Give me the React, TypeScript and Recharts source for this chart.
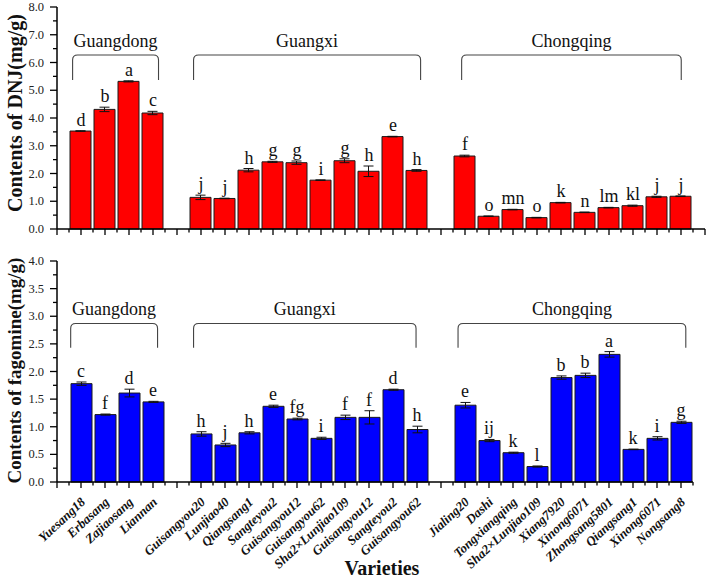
import React from 'react';
import { ComposedChart, Bar, Line, XAxis, YAxis, ErrorBar, LabelList, ReferenceArea } from 'recharts';

// ---------- data ----------
const regionNames = ['Guangdong', 'Guangxi', 'Chongqing'];
const gdNames = ['Yuesang18', 'Erbasang', 'Zajiaosang', 'Liannan'];
const gxNames = ['Guisangyou20', 'Lunjiao40', 'Qiangsang1', 'Sangteyou2', 'Guisangyou12', 'Guisangyou62', 'Sha2×Lunjiao109', 'Guisangyou12', 'Sangteyou2', 'Guisangyou62'];
const cqNames = ['Jialing20', 'Dashi', 'Tongxiangqing', 'Sha2×Lunjiao109', 'Xiang7920', 'Xinong6071', 'Zhongsang5801', 'Qiangsang1', 'Xinong6071', 'Nongsang8'];

const dnjValues = [3.53, 4.31, 5.32, 4.18, 1.14, 1.10, 2.12, 2.42, 2.39, 1.76, 2.46, 2.08, 3.33, 2.11, 2.63, 0.46, 0.70, 0.41, 0.95, 0.60, 0.77, 0.84, 1.16, 1.18];
const dnjErrors = [0.01, 0.08, 0.02, 0.06, 0.08, 0.01, 0.06, 0.02, 0.06, 0.01, 0.07, 0.19, 0.01, 0.03, 0.03, 0.01, 0.01, 0.01, 0.01, 0.01, 0.01, 0.02, 0.02, 0.01];
const dnjLetters = ['d', 'b', 'a', 'c', 'j', 'j', 'h', 'g', 'g', 'i', 'g', 'h', 'e', 'h', 'f', 'o', 'mn', 'o', 'k', 'n', 'lm', 'kl', 'j', 'j'];

const fagValues = [1.78, 1.22, 1.61, 1.45, 0.87, 0.67, 0.89, 1.37, 1.14, 0.79, 1.17, 1.17, 1.67, 0.95, 1.39, 0.75, 0.53, 0.28, 1.89, 1.93, 2.31, 0.59, 0.79, 1.08];
const fagErrors = [0.03, 0.01, 0.07, 0.01, 0.04, 0.03, 0.02, 0.02, 0.015, 0.02, 0.04, 0.12, 0.01, 0.06, 0.05, 0.02, 0.01, 0.01, 0.03, 0.04, 0.05, 0.005, 0.03, 0.02];
const fagLetters = ['c', 'f', 'd', 'e', 'h', 'j', 'h', 'e', 'fg', 'i', 'f', 'f', 'd', 'h', 'e', 'ij', 'k', 'l', 'b', 'b', 'a', 'k', 'i', 'g'];

// ---------- layout helpers ----------
const groups = [gdNames, gxNames, cqNames];
const names: string[] = [];
const slots: number[] = [];
{
  let s = 1;
  groups.forEach((g) => {
    g.forEach((n) => { names.push(n); slots.push(s); s += 1; });
    s += 1;
  });
}
const nameBySlot: Record<number, string> = {};
slots.forEach((s, i) => { nameBySlot[s] = names[i]; });

const rows = slots.map((s, i) => ({
  x: s,
  name: names[i],
  dnj: dnjValues[i],
  dnjErr: dnjErrors[i],
  dnjTop: dnjValues[i] + dnjErrors[i],
  dnjLetter: dnjLetters[i],
  fag: fagValues[i],
  fagErr: fagErrors[i],
  fagTop: fagValues[i] + fagErrors[i],
  fagLetter: fagLetters[i],
}));

const FONT = 'Liberation Serif, Times New Roman, serif';

const rangeTicks = (max: number, step: number) => {
  const out: number[] = [];
  for (let v = 0; v <= max + 1e-9; v += step) out.push(Math.round(v * 1000) / 1000);
  return out;
};

const isMult = (v: number, step: number) => Math.abs(v / step - Math.round(v / step)) < 1e-6;

const XTick = (props: any) => {
  const { x, y, payload, showLabels } = props;
  const v = payload.value;
  const major = isMult(v, 1);
  const name = major ? nameBySlot[Math.round(v)] : undefined;
  const tx = x + 5;
  const ty = y + 21;
  return (
    <g>
      <line x1={x} y1={y} x2={x} y2={y + (major ? 6 : 3.5)} stroke="#000" strokeWidth={1.3} />
      {showLabels && name && (
        <text x={tx} y={ty} transform={`rotate(-43, ${tx}, ${ty})`} textAnchor="end"
          fontFamily={FONT} fontWeight="bold" fontStyle="italic" fontSize={13} fill="#111">
          {name}
        </text>
      )}
    </g>
  );
};

const YTick = (props: any) => {
  const { x, y, payload, majorStep } = props;
  const v = payload.value;
  const major = isMult(v, majorStep);
  return (
    <g>
      <line x1={x - (major ? 7 : 4)} y1={y} x2={x} y2={y} stroke="#000" strokeWidth={1.3} />
      {major && (
        <text x={x - 13} y={y + 4} textAnchor="end" fontFamily={FONT} fontSize={12.5} fill="#222">
          {v.toFixed(1)}
        </text>
      )}
    </g>
  );
};

const XTitle = (props: any) => {
  const vb = props.viewBox || {};
  const cx = vb.x + vb.width / 2 + 7;
  const by = vb.y + vb.height - 5;
  return (
    <text x={cx} y={by} textAnchor="middle" fontFamily={FONT} fontWeight="bold" fontSize={20} fill="#111">
      {props.value}
    </text>
  );
};

const YTitle = (props: any) => {
  const vb = props.viewBox || {};
  const cx = vb.x + 14.5;
  const cy = vb.y + vb.height / 2 + (props.dyShift || 0);
  return (
    <text x={cx} y={cy} transform={`rotate(-90, ${cx}, ${cy})`} textAnchor="middle" dominantBaseline="central"
      fontFamily={FONT} fontWeight="bold" fontSize={props.size} fill="#111">
      {props.value}
    </text>
  );
};

const bracketShape = (label: string) => (p: any) => {
  const { x, y, width, height } = p;
  const r = 5;
  const d = `M ${x} ${y + height} L ${x} ${y + r} Q ${x} ${y} ${x + r} ${y} L ${x + width - r} ${y} Q ${x + width} ${y} ${x + width} ${y + r} L ${x + width} ${y + height}`;
  return (
    <g>
      <path d={d} fill="none" stroke="#444" strokeWidth={1.1} />
      <text x={x + width / 2} y={y - 8} textAnchor="middle" fontFamily={FONT} fontSize={18} fill="#111">{label}</text>
    </g>
  );
};

// bracket spans in slot units
const topBrackets = [[0.65, 4.23], [5.69, 15.15], [16.86, 26.01]];
const topBracketY = [5.37, 6.27];
const botBrackets = [[0.57, 4.19], [5.69, 14.96], [16.71, 26.2]];
const botBracketY = [2.43, 2.87];

const Panel = (props: any) => {
  const { width, height, margin, xMax, yMax, majorStep, minorStep, valueKey, errKey, topKey, letterKey, color,
    yLabel, yLabelSize, yLabelDy, showLabels, xAxisHeight, brackets, bracketY } = props;
  return (
    <ComposedChart width={width} height={height} data={rows} margin={margin}>
      <XAxis dataKey="x" type="number" domain={[0, xMax]} ticks={rangeTicks(xMax, 0.5)} interval={0}
        tickSize={0} tickMargin={0} tickLine={false} height={xAxisHeight}
        axisLine={{ stroke: '#000', strokeWidth: 1.5 }}
        tick={(tp: any) => <XTick {...tp} showLabels={showLabels} />}
        label={showLabels ? <XTitle value="Varieties" /> : undefined}
      />
      <YAxis type="number" domain={[0, yMax]} ticks={rangeTicks(yMax, minorStep)} interval={0}
        tickSize={0} tickMargin={0} tickLine={false} width={57}
        axisLine={{ stroke: '#000', strokeWidth: 1.5 }}
        tick={(tp: any) => <YTick {...tp} majorStep={majorStep} />}
        label={<YTitle value={yLabel} size={yLabelSize} dyShift={yLabelDy} />}
      />
      {brackets.map((b: number[], i: number) => (
        <ReferenceArea key={i} x1={b[0]} x2={b[1]} y1={bracketY[0]} y2={bracketY[1]}
          shape={bracketShape(regionNames[i])} />
      ))}
      <Bar dataKey={valueKey} barSize={21} fill={color} stroke="#1a1a1a" strokeWidth={1} isAnimationActive={false}>
        <ErrorBar dataKey={errKey} width={5} stroke="#111" strokeWidth={1} />
      </Bar>
      <Line dataKey={topKey} stroke="none" dot={false} activeDot={false} isAnimationActive={false} legendType="none">
        <LabelList dataKey={letterKey} position="top" offset={5} fontFamily={FONT}
          style={{ fontFamily: FONT, fontSize: 18, fill: '#111' }} />
      </Line>
    </ComposedChart>
  );
};

export default function App() {
  return (
    <div style={{ position: 'absolute', left: 0, top: 0, width: 708, height: 580, background: '#fff' }}>
      <div style={{ position: 'absolute', left: 0, top: 0 }}>
        <Panel width={708} height={250} margin={{ top: 7, right: 3, bottom: 0, left: 0 }}
          xMax={27} yMax={8} majorStep={1} minorStep={0.5}
          valueKey="dnj" errKey="dnjErr" topKey="dnjTop" letterKey="dnjLetter" color="#ff0000"
          yLabel="Contents of DNJ(mg/g)" yLabelSize={20} yLabelDy={-5} showLabels={false} xAxisHeight={21}
          brackets={topBrackets} bracketY={topBracketY} />
      </div>
      <div style={{ position: 'absolute', left: 0, top: 250 }}>
        <Panel width={708} height={330} margin={{ top: 11, right: 15, bottom: 0, left: 0 }}
          xMax={26.5} yMax={4} majorStep={0.5} minorStep={0.25}
          valueKey="fag" errKey="fagErr" topKey="fagTop" letterKey="fagLetter" color="#0000ff"
          yLabel="Contents of fagomine(mg/g)" yLabelSize={19} yLabelDy={-1} showLabels={true} xAxisHeight={98}
          brackets={botBrackets} bracketY={botBracketY} />
      </div>
    </div>
  );
}
